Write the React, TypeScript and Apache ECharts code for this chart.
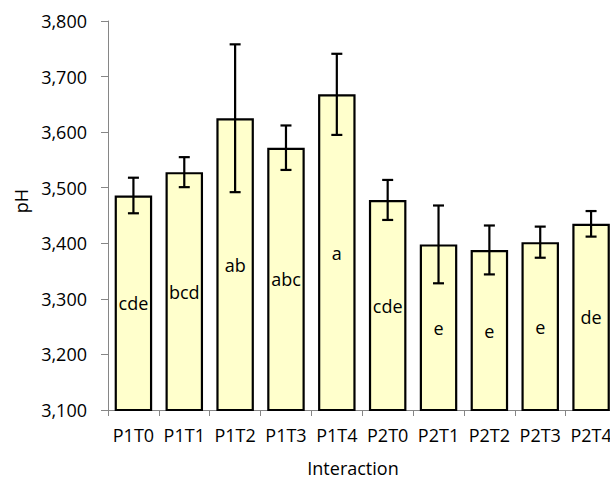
import React, { useEffect, useRef } from "react";
import * as echarts from "echarts";

const categories = ["P1T0", "P1T1", "P1T2", "P1T3", "P1T4", "P2T0", "P2T1", "P2T2", "P2T3", "P2T4"];
const means = [3486, 3528, 3625, 3572, 3668, 3478, 3398, 3388, 3402, 3435];
const errors = [32, 27, 133, 40, 73, 36, 70, 44, 28, 23];
const letters = ["cde", "bcd", "ab", "abc", "a", "cde", "e", "e", "e", "de"];
const yTicks = { min: 3100, max: 3800, interval: 100 };

const FONT = "'Open Sans', 'Noto Sans', sans-serif";

export default function App() {
  const ref = useRef<HTMLDivElement>(null);
  useEffect(() => {
    if (!ref.current) return;
    const chart = echarts.init(ref.current, null, { renderer: "svg" });
    const errData = means.map((m, i) => [i, m - errors[i], m + errors[i]]);
    chart.setOption({
      animation: false,
      textStyle: { fontFamily: FONT },
      grid: { left: 108, width: 508.5, top: 21, height: 389, outerBoundsMode: "none" },
      xAxis: {
        type: "category",
        data: categories,
        boundaryGap: true,
        axisLine: { lineStyle: { color: "#868686", width: 1 } },
        axisTick: { show: true, length: 6, lineStyle: { color: "#868686" } },
        axisLabel: { color: "#000", fontSize: 18, fontFamily: FONT, margin: 16, interval: 0 },
      },
      yAxis: {
        type: "value",
        min: yTicks.min,
        max: yTicks.max,
        interval: yTicks.interval,
        axisLine: { show: true, lineStyle: { color: "#868686", width: 1 } },
        axisTick: { show: true, length: 7, lineStyle: { color: "#868686" } },
        splitLine: { show: false },
        axisLabel: {
          color: "#000",
          fontSize: 18,
          fontFamily: FONT,
          margin: 21,
          formatter: (v: number) => v.toLocaleString("en-US"),
        },
      },
      graphic: [
        {
          type: "text",
          x: 353,
          y: 468,
          style: {
            text: "Interaction",
            fill: "#000",
            font: `18px ${FONT}`,
            textAlign: "center",
            textVerticalAlign: "middle",
            align: "center",
            verticalAlign: "middle",
          },
        },
        {
          type: "text",
          x: 21,
          y: 201,
          rotation: Math.PI / 2,
          style: {
            text: "pH",
            fill: "#000",
            font: `18px ${FONT}`,
            textAlign: "center",
            textVerticalAlign: "middle",
            align: "center",
            verticalAlign: "middle",
          },
        },
      ],
      series: [
        {
          type: "bar",
          data: means,
          barWidth: 37.5,
          itemStyle: { color: "#FFFFCC", borderColor: "#000", borderWidth: 2.2 },
          label: {
            show: true,
            position: "inside",
            color: "#000",
            fontSize: 18,
            fontFamily: FONT,
            formatter: (p: any) => letters[p.dataIndex],
          },
        },
        {
          type: "custom",
          data: errData,
          encode: { x: 0, y: [1, 2] },
          z: 5,
          renderItem: (params: any, api: any) => {
            const x = api.value(0);
            const lo = api.coord([x, api.value(1)]);
            const hi = api.coord([x, api.value(2)]);
            const half = 5.5;
            const st = { stroke: "#000", lineWidth: 2.2 };
            return {
              type: "group",
              children: [
                { type: "line", shape: { x1: hi[0], y1: hi[1], x2: lo[0], y2: lo[1] }, style: st },
                { type: "line", shape: { x1: hi[0] - half, y1: hi[1], x2: hi[0] + half, y2: hi[1] }, style: st },
                { type: "line", shape: { x1: lo[0] - half, y1: lo[1], x2: lo[0] + half, y2: lo[1] }, style: st },
              ],
            };
          },
        },
      ],
    });
    return () => chart.dispose();
  }, []);
  return (
    <div
      ref={ref}
      style={{ width: 610, height: 479, position: "absolute", left: 0, top: 0, background: "#fff" }}
    />
  );
}
